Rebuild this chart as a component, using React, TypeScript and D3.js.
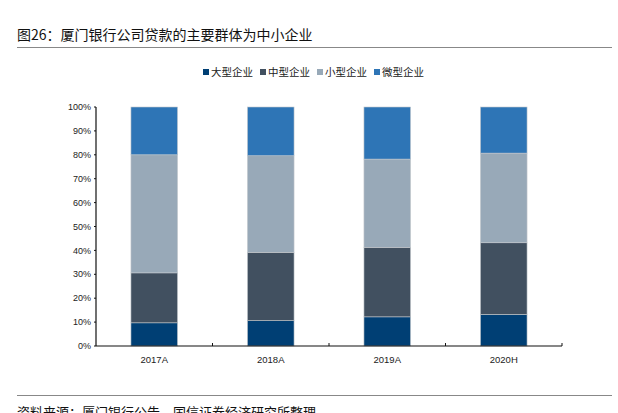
import React from 'react';
import * as d3 from 'd3';

const categories = ['2017A', '2018A', '2019A', '2020H'];
const seriesNames = ['大型企业', '中型企业', '小型企业', '微型企业'];
const large = [9.7, 10.6, 12.2, 13.2];
const medium = [20.9, 28.6, 29.1, 30.0];
const small = [49.4, 40.4, 36.9, 37.5];
const micro = [20.0, 20.4, 21.8, 19.3];
const yTicks = [0, 10, 20, 30, 40, 50, 60, 70, 80, 90, 100];
const colors = ['#003f74', '#415060', '#98a9b8', '#2e75b6'];

const W = 618;
const H = 413;
const margin = { left: 96, right: 56, top: 107, bottom: 67 };

const cjk = "'Noto Sans CJK SC', sans-serif";
const num = "Arial, 'Liberation Sans', 'Noto Sans CJK SC', sans-serif";

const App: React.FC = () => {
  const rows = categories.map((c, i) => ({
    cat: c,
    s0: large[i],
    s1: medium[i],
    s2: small[i],
    s3: micro[i],
  }));
  const stack = d3.stack<any>().keys(['s0', 's1', 's2', 's3']);
  const layers = stack(rows);

  const x = d3
    .scaleBand<string>()
    .domain(categories)
    .range([margin.left, W - margin.right])
    .paddingInner(0.6)
    .paddingOuter(0.3);
  const y = d3
    .scaleLinear()
    .domain([0, 100])
    .range([H - margin.bottom, margin.top]);

  const step = x.step();
  const x0 = margin.left;
  const x1 = W - margin.right;
  const y0 = y(0);
  const bounds = categories.map((_, i) => x0 + step * (i + 1));

  // legend layout
  const itemW = 57;
  const legendX = 203;
  const legendY = 72;

  return (
    <svg width={W} height={H} style={{ display: 'block', position: 'absolute', left: 0, top: 0 }}>
      <rect width={W} height={H} fill="#fff" />
      <text x={17} y={40} fontSize={14} fontFamily={cjk} fill="#111">
        图26：厦门银行公司贷款的主要群体为中小企业
      </text>
      <line x1={17} x2={612} y1={47.5} y2={47.5} stroke="#888" strokeWidth={1} />

      {seriesNames.map((n, i) => (
        <g key={n} transform={`translate(${legendX + i * itemW},${legendY})`}>
          <rect x={0} y={-3} width={6} height={6} fill={colors[i]} />
          <text x={8} y={0} dy="0.36em" fontSize={10.5} fontFamily={cjk} fill="#222">
            {n}
          </text>
        </g>
      ))}

      {layers.map((layer, li) => (
        <g key={li}>
          {layer.map((d, i) => (
            <rect
              key={i}
              x={x(categories[i])}
              y={y(d[1])}
              width={x.bandwidth()}
              height={y(d[0]) - y(d[1])}
              fill={colors[li]}
              stroke="#c4c8cc"
              strokeWidth={0.6}
            />
          ))}
        </g>
      ))}

      {/* y axis */}
      <line x1={x0} x2={x0} y1={y(100)} y2={y0} stroke="#111" strokeWidth={1.2} />
      {yTicks.map((t) => (
        <g key={t}>
          <line x1={x0 - 2} x2={x0} y1={y(t)} y2={y(t)} stroke="#111" strokeWidth={1} />
          <text
            x={x0 - 5}
            y={y(t)}
            dy="0.35em"
            textAnchor="end"
            fontSize={9}
            fontFamily={num}
            fill="#222"
          >
            {t}%
          </text>
        </g>
      ))}

      {/* x axis */}
      <line x1={x0} x2={x1} y1={y0} y2={y0} stroke="#111" strokeWidth={1.2} />
      {bounds.map((b, i) => (
        <line key={i} x1={b} x2={b} y1={y0} y2={y0 - 3} stroke="#111" strokeWidth={1} />
      ))}
      {categories.map((c) => (
        <text
          key={c}
          x={(x(c) as number) + x.bandwidth() / 2}
          y={363}
          textAnchor="middle"
          fontSize={9.5}
          fontFamily={num}
          fill="#222"
        >
          {c}
        </text>
      ))}

      <line x1={17} x2={612} y1={395.5} y2={395.5} stroke="#888" strokeWidth={1} />
      <text x={17} y={417} fontSize={13} fontFamily={cjk} fill="#111">
        资料来源：厦门银行公告，国信证券经济研究所整理
      </text>
    </svg>
  );
};

export default App;
